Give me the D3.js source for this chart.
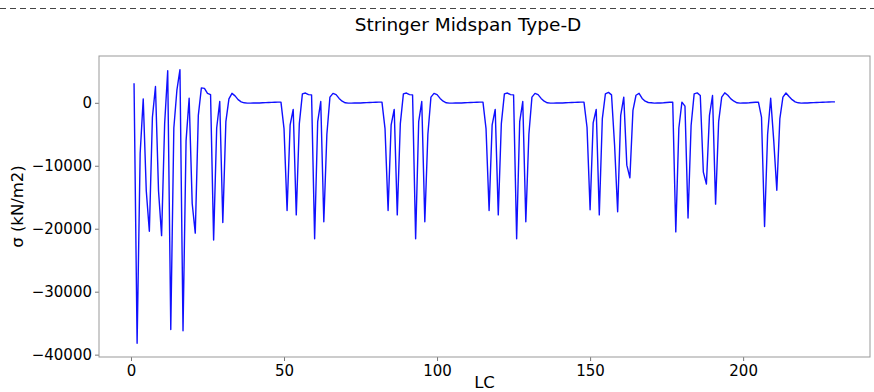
<!DOCTYPE html>
<html>
<head>
<meta charset="utf-8">
<script src="https://cdn.jsdelivr.net/npm/d3@7"></script>
<style>
  body { margin: 0; background: #fff; }
  text { font-family: "DejaVu Sans", sans-serif; fill: #000; }
</style>
</head>
<body>
<div id="chart"></div>
<script>
// stress at midspan per load case, LC 1..230
const stress = [
  3100, -38200, -8000, 630, -14000, -20400, -2300, 2580, -14000, -21100,
  -3300, 5100, -36000, -4000, 2000, 5260, -36200, -6000, 730, -16000,
  -20700, -2000, 2370, 2300, 1500, 1300, -21800, -4000, 200, -19000,
  -3000, 630, 1500, 1100, 500, 150, 0, -50, -50, -40,
  -30, -20, 0, 20, 40, 60, 80, 100, 100, -4100,
  -17100, -3500, -1060, -17800, -3300, 1420, 1550, 1300, 1260, -21600,
  -3000, 200, -18900, -5000, 900, 1500, 1300, 700, 250, 0,
  -50, -50, -40, -30, -20, 0, 20, 40, 60, 80,
  100, 100, -4100, -17100, -3500, -1060, -17800, -3300, 1420, 1550,
  1300, 1260, -21600, -3000, 200, -18900, -5000, 900, 1500, 1300,
  700, 250, 0, -50, -50, -40, -30, -20, 0, 20,
  40, 60, 80, 100, 100, -4100, -17100, -3500, -1060, -17800,
  -3300, 1420, 1550, 1300, 1260, -21600, -3000, 200, -18900, -5000,
  900, 1500, 1300, 700, 250, 0, -50, -50, -40, -30,
  -20, 0, 20, 40, 60, 80, 100, 100, -3900, -17000,
  -3200, -1060, -17800, -2500, 1420, 1650, 1260, -6700, -17300, -2000,
  900, -9900, -11900, -1200, 1200, 1500, 700, 250, 50, 0,
  -50, -40, -20, 0, 40, 80, 100, -20500, -4000, 100,
  -540, -18300, -3600, 1420, 1580, 1150, -11000, -12900, -2000, 1150,
  -16100, -3000, 890, 1580, 1200, 630, 250, 0, -50, -40,
  -20, 0, 40, 80, 100, -2270, -19650, -5000, 730, -6000,
  -13900, -2500, 900, 1550, 1000, 500, 150, 0, -50, -40,
  -20, 0, 20, 40, 60, 80, 100, 120, 140, 150
];
const lc = d3.range(1, stress.length + 1);

const xTicks = [0, 50, 100, 150, 200];
const yTicks = [0, -10000, -20000, -30000, -40000];

const title = "Stringer Midspan Type-D";
const xLabel = "LC";
const yLabel = "σ (kN/m2)";

const width = 874, height = 392;
const margin = { top: 56, right: 4, bottom: 35, left: 99 };

const svg = d3.select("#chart").append("svg")
  .attr("width", width)
  .attr("height", height);

// dashed separator on top
svg.append("line")
  .attr("x1", 0).attr("x2", width)
  .attr("y1", 8.5).attr("y2", 8.5)
  .attr("stroke", "#444")
  .attr("stroke-width", 1)
  .attr("stroke-dasharray", "6,4");

// matplotlib-like 5% margins around the data
const xExt = d3.extent(lc), yExt = d3.extent(stress);
const xPad = (xExt[1] - xExt[0]) * 0.05, yPad = (yExt[1] - yExt[0]) * 0.05;

const x = d3.scaleLinear()
  .domain([xExt[0] - xPad, xExt[1] + xPad])
  .range([margin.left, width - margin.right]);

const y = d3.scaleLinear()
  .domain([yExt[0] - yPad, yExt[1] + yPad])
  .range([height - margin.bottom, margin.top]);

const fmt = d => d3.format("d")(d).replace("-", "\u2212");

const xAxis = svg.append("g")
  .attr("transform", `translate(0, ${height - margin.bottom})`)
  .call(d3.axisBottom(x).tickValues(xTicks).tickFormat(fmt).tickSize(4).tickPadding(4));

const yAxis = svg.append("g")
  .attr("transform", `translate(${margin.left}, 0)`)
  .call(d3.axisLeft(y).tickValues(yTicks).tickFormat(fmt).tickSize(4).tickPadding(3));

[xAxis, yAxis].forEach(a => {
  a.select(".domain").remove();
  a.selectAll("line").attr("stroke", "#777");
  a.selectAll("text").attr("font-size", 15).attr("font-family", "DejaVu Sans").attr("fill", "#000");
});

// frame
svg.append("rect")
  .attr("x", margin.left)
  .attr("y", margin.top)
  .attr("width", width - margin.left - margin.right)
  .attr("height", height - margin.top - margin.bottom)
  .attr("fill", "none")
  .attr("stroke", "#999")
  .attr("stroke-width", 1);

const line = d3.line()
  .x((d, i) => x(lc[i]))
  .y(d => y(d));

svg.append("path")
  .datum(stress)
  .attr("d", line)
  .attr("fill", "none")
  .attr("stroke", "#1010ff")
  .attr("stroke-width", 1.4)
  .attr("stroke-linejoin", "round");

svg.append("text")
  .attr("x", 468)
  .attr("y", 31)
  .attr("text-anchor", "middle")
  .attr("font-size", 18.5)
  .text(title);

svg.append("text")
  .attr("x", (margin.left + width - margin.right) / 2)
  .attr("y", 388)
  .attr("text-anchor", "middle")
  .attr("font-size", 16.5)
  .text(xLabel);

svg.append("text")
  .attr("transform", `translate(23, ${(margin.top + height - margin.bottom) / 2}) rotate(-90)`)
  .attr("text-anchor", "middle")
  .attr("font-size", 16.5)
  .text(yLabel);
</script>
</body>
</html>
